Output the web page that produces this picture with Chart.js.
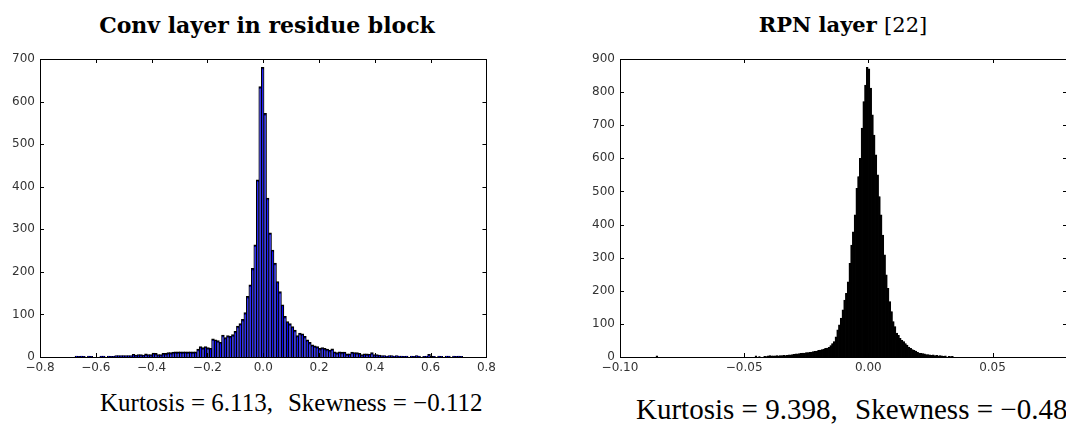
<!DOCTYPE html>
<html>
<head>
<meta charset="utf-8">
<script src="https://cdn.jsdelivr.net/npm/chart.js@4"></script>
<style>
  html, body { margin: 0; padding: 0; background: #fff; }
  body { width: 1066px; height: 428px; overflow: hidden; position: relative; }
  canvas { position: absolute; }
  .title { position: absolute; font-family: 'DejaVu Serif', serif; font-weight: bold; line-height: 22px; color: #000; text-align: center; white-space: nowrap; }
  .title .reg { font-weight: normal; }
  .stat { position: absolute; font-family: 'Liberation Serif', serif; line-height: 1; color: #000; white-space: nowrap; }
  .gap { display: inline-block; width: 0.6em; }
</style>
</head>
<body>
<div class="title" style="left:0; width:534px; top:14px; font-size:22px;">Conv layer in residue block</div>
<div class="title" style="left:643px; width:400px; top:14px; font-size:21px;">RPN layer <span class="reg">[22]</span></div>
<canvas id="convChart" width="500" height="380" style="left:0; top:0;"></canvas>
<canvas id="rpnChart" width="500" height="380" style="left:580px; top:0;"></canvas>
<div class="stat" style="left:100px; top:390px; font-size:25px;">Kurtosis = 6.113,<span class="gap"></span>Skewness = &minus;0.112</div>
<div class="stat" style="left:636px; top:395px; font-size:29px;">Kurtosis = 9.398,<span class="gap"></span>Skewness = &minus;0.481</div>
<script>
// Conv layer histogram: bin start, bin width, counts per bin
const convBinStart = -0.674;
const convBinWidth = 0.0089;
const convCounts = [
  2, 1, 2, 1, 0, 2, 1, 0, 0, 0,
  2, 2, 0, 2, 1, 1, 3, 3, 3, 3,
  3, 3, 3, 6, 4, 5, 5, 4, 7, 5,
  5, 9, 8, 5, 5, 8, 8, 10, 10, 11,
  12, 12, 12, 12, 12, 12, 12, 12, 12, 18,
  24, 22, 24, 22, 20, 42, 40, 38, 34, 51,
  45, 50, 48, 52, 60, 72, 78, 88, 104, 142,
  169, 208, 263, 416, 635, 680, 572, 373, 291, 251,
  220, 177, 153, 122, 95, 83, 78, 71, 63, 50,
  56, 54, 48, 40, 34, 28, 26, 24, 20, 22,
  20, 18, 16, 19, 12, 10, 12, 11, 11, 7,
  7, 11, 10, 10, 8, 5, 7, 7, 6, 10,
  5, 5, 4, 3, 3, 2, 3, 3, 2, 3,
  2, 2, 1, 2, 0, 2, 1, 3, 2, 0,
  1, 2, 6, 2, 1, 0, 2, 1, 0, 2,
  2, 0, 2, 1, 2, 1
];

// RPN layer histogram
const rpnBinStart = -0.0855;
const rpnBinWidth = 0.0007;
const rpnCounts = [
  3, 0, 0, 0, 0, 0, 0, 0, 0, 0,
  0, 0, 0, 0, 0, 0, 0, 0, 0, 0,
  0, 0, 0, 0, 0, 0, 0, 0, 0, 0,
  0, 0, 0, 0, 0, 0, 0, 0, 0, 0,
  0, 0, 0, 0, 0, 0, 0, 0, 0, 0,
  0, 0, 0, 0, 0, 0, 0, 3, 0, 1,
  0, 0, 2, 1, 3, 4, 3, 3, 3, 4,
  3, 4, 4, 5, 4, 5, 6, 6, 7, 8,
  9, 9, 10, 11, 12, 12, 13, 13, 14, 15,
  16, 17, 18, 20, 21, 22, 24, 26, 27, 29,
  34, 40, 46, 61, 82, 97, 117, 142, 172, 192,
  227, 283, 338, 378, 429, 509, 545, 600, 691, 771,
  821, 875, 870, 812, 731, 670, 610, 550, 484, 429,
  368, 308, 248, 207, 167, 137, 107, 92, 72, 65,
  56, 50, 46, 40, 36, 30, 26, 22, 20, 18,
  14, 12, 11, 10, 9, 7, 7, 6, 5, 6,
  4, 5, 3, 4, 3, 2, 3, 0, 2, 1,
  2
];

// axis ticks
const convXTicks = [-0.8, -0.6, -0.4, -0.2, 0.0, 0.2, 0.4, 0.6, 0.8];
const convYTicks = [0, 100, 200, 300, 400, 500, 600, 700];
const rpnXTicks = [-0.10, -0.05, 0.00, 0.05];
const rpnYTicks = [0, 100, 200, 300, 400, 500, 600, 700, 800, 900];

Chart.defaults.font.family = "'DejaVu Sans', sans-serif";
Chart.defaults.font.size = 12;
Chart.defaults.color = '#333';
Chart.defaults.animation = false;

function toPoints(start, width, counts) {
    return counts.map((c, i) => ({ x: start + (i + 0.5) * width, y: c }));
}

function fmt(v, digits) {
    const s = Math.abs(v).toFixed(digits);
    return (v < -1e-9 ? '\u2212' : '') + s;
}

// matplotlib-like frame with ticks pointing inwards on all four sides
const innerFrame = {
    id: 'innerFrame',
    afterDraw(chart) {
        const { ctx, chartArea: a, scales: { x, y } } = chart;
        const len = 4;
        ctx.save();
        ctx.strokeStyle = '#000';
        ctx.lineWidth = 1;
        ctx.beginPath();
        x.ticks.forEach(t => {
            const px = Math.round(x.getPixelForValue(t.value)) + 0.5;
            ctx.moveTo(px, a.bottom); ctx.lineTo(px, a.bottom - len);
            ctx.moveTo(px, a.top); ctx.lineTo(px, a.top + len);
        });
        y.ticks.forEach(t => {
            const py = Math.round(y.getPixelForValue(t.value)) + 0.5;
            ctx.moveTo(a.left, py); ctx.lineTo(a.left + len, py);
            ctx.moveTo(a.right, py); ctx.lineTo(a.right - len, py);
        });
        ctx.stroke();
        ctx.strokeRect(Math.round(a.left) + 0.5, Math.round(a.top) + 0.5,
                       Math.round(a.width), Math.round(a.height));
        ctx.restore();
    }
};

function histChart(id, points, fill, xTicks, xMax, yTicks, digits, borderW, inflate) {
    return new Chart(document.getElementById(id), {
        type: 'bar',
        data: {
            datasets: [{
                data: points,
                backgroundColor: fill,
                borderColor: '#000',
                borderWidth: borderW,
                borderSkipped: 'start',
                inflateAmount: inflate,
                barPercentage: 1,
                categoryPercentage: 1
            }]
        },
        options: {
            responsive: false,
            layout: { padding: { top: 59, right: 13, left: 0, bottom: 0 } },
            plugins: { legend: { display: false }, tooltip: { enabled: false } },
            scales: {
                x: {
                    type: 'linear',
                    offset: false,
                    min: xTicks[0],
                    max: xMax,
                    afterBuildTicks: s => { s.ticks = xTicks.map(v => ({ value: v })); },
                    ticks: { padding: 4, includeBounds: false, callback: v => fmt(v, digits) },
                    grid: { display: false, drawTicks: false },
                    border: { display: false },
                    afterFit: s => { s.height = 23; }
                },
                y: {
                    min: 0,
                    max: yTicks[yTicks.length - 1],
                    afterBuildTicks: s => { s.ticks = yTicks.map(v => ({ value: v })); },
                    ticks: { padding: 5, callback: v => String(v) },
                    grid: { display: false, drawTicks: false },
                    border: { display: false },
                    afterFit: s => { s.width = 40; }
                }
            }
        },
        plugins: [innerFrame]
    });
}

histChart('convChart', toPoints(convBinStart, convBinWidth, convCounts), '#0000ff', convXTicks, 0.8, convYTicks, 1, 1.5, 0.5);
histChart('rpnChart', toPoints(rpnBinStart, rpnBinWidth, rpnCounts), '#000000', rpnXTicks, 0.08, rpnYTicks, 2, 0.5, 0.4);
</script>
</body>
</html>
